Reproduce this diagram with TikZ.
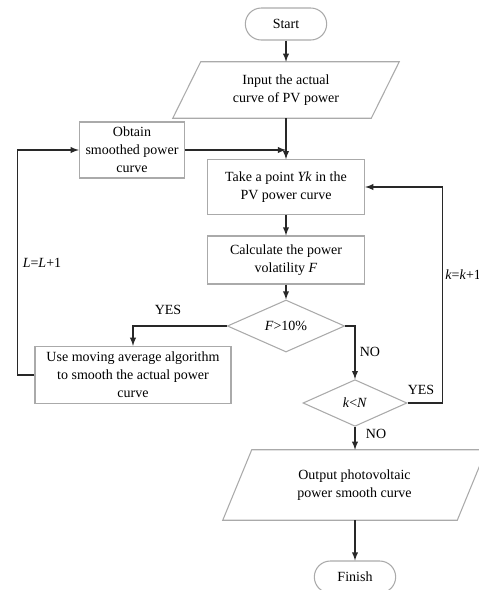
\documentclass[tikz,border=0pt]{standalone}
\usepackage{fontspec}
\setmainfont{Liberation Serif}
\usetikzlibrary{arrows,shapes}
\usetikzlibrary{shapes.geometric}
\usetikzlibrary{positioning}
\usetikzlibrary{calc}

\definecolor{boxgray}{RGB}{170,170,170}
\definecolor{linegray}{RGB}{40,40,40}

\tikzset{
  every node/.style={font=\fontsize{10.5}{13.5}\selectfont},
  terminal/.style={draw=boxgray, line width=0.8pt, rectangle, rounded corners=12pt, align=center},
  iobox/.style={rectangle, align=center, inner sep=0pt},
  ioline/.style={draw=boxgray, line width=0.8pt},
  procbox/.style={draw=boxgray, line width=0.8pt, rectangle, align=center, inner sep=0pt},
  testbox/.style={draw=boxgray, line width=0.8pt, diamond, align=center, inner sep=0pt},
  flow/.style={draw=linegray, line width=1.1pt, -latex},
}

\begin{document}
\begin{tikzpicture}[x=0.75pt, y=-0.75pt]
 \useasboundingbox (0,0) rectangle (479,590);

 %nodes
 \node[terminal, minimum width=61pt, minimum height=24pt] (start) at (286,24) {Start};
 \node[iobox, minimum width=148.5pt, minimum height=42pt] (input) at (286,90) {Input the actual\\curve of PV power};
 \node[procbox, minimum width=79pt, minimum height=42pt] (obtain) at (132,150) {Obtain\\smoothed power\\curve};
 \node[procbox, minimum width=118pt, minimum height=41pt] (take) at (286,187) {Take a point \textit{Yk} in the\\PV power curve};
 \node[procbox, minimum width=118pt, minimum height=36pt] (calc) at (286,260) {Calculate the power\\volatility \textit{F}};
 \node[testbox, minimum width=88pt, minimum height=39pt] (fcheck) at (286,326) {\textit{F}>10\%};
 \node[procbox, minimum width=147pt, minimum height=43pt] (smooth) at (133,375) {Use moving average algorithm\\to smooth the actual power\\curve};
 \node[testbox, minimum width=78pt, minimum height=35pt] (kcheck) at (355,403) {\textit{k}<\textit{N}};
 \node[iobox, minimum width=175.5pt, minimum height=52.5pt] (output) at (354.5,485) {Output photovoltaic\\power smooth curve};
 \node[terminal, minimum width=61pt, minimum height=24pt] (finish) at (355,577) {Finish};

 %parallelograms
 \draw[ioline] ($(input.north west)+(14,0)$) -- ($(input.north east)+(14,0)$) -- ($(input.south east)+(-14,0)$) -- ($(input.south west)+(-14,0)$) -- cycle;
 \draw[ioline] ($(output.north west)+(14.5,0)$) -- ($(output.north east)+(14.5,0)$) -- ($(output.south east)+(-14.5,0)$) -- ($(output.south west)+(-14.5,0)$) -- cycle;

 %main line
 \draw[flow] (start) -- (input);
 \draw[flow] (input) -- (take);
 \draw[flow] (obtain.east) -- (obtain.east -| take.north);
 \draw[flow] (take) -- (calc);
 \draw[flow] (calc) -- (fcheck);
 \draw[flow] (fcheck.west) -| (smooth.north);
 \draw[flow] (fcheck.east) -| (kcheck.north);
 \draw[flow] (kcheck) -- (kcheck |- output.north);
 \draw[flow] (output.south -| finish.north) -- (finish);

 %loops
 \draw[flow] (smooth.west) -- ++(-17,0) |- (obtain.west);
 \draw[flow] (kcheck.east) -- ++(35,0) |- (take.east);

 %labels
 \node (yes1) at (168,310) {YES};
 \node (no1) at (370,352) {NO};
 \node (yes2) at (421,390) {YES};
 \node (no2) at (376,434) {NO};
 \node (lstep) at (42,263) {\textit{L}=\textit{L}+1};
 \node[anchor=west, inner sep=0pt] (kstep) at (445,275) {\textit{k}=\textit{k}+1};

\end{tikzpicture}
\end{document}
